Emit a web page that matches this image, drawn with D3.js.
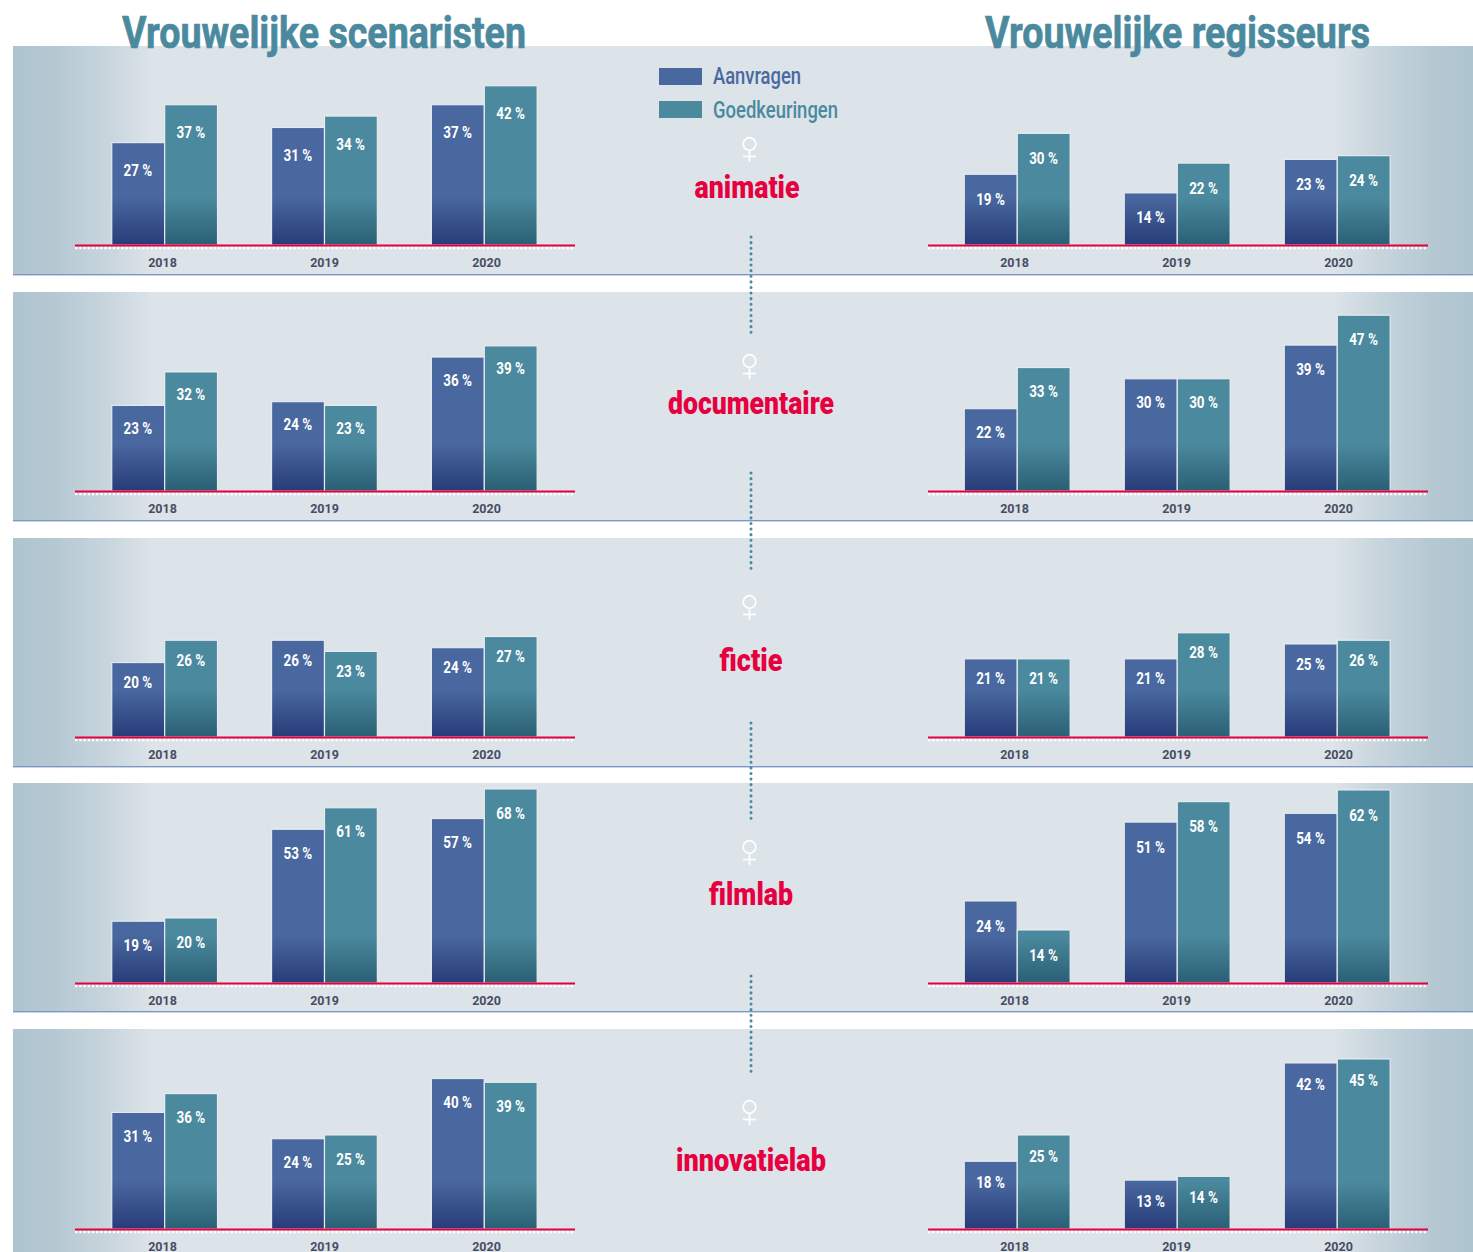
<!DOCTYPE html>
<html><head><meta charset="utf-8">
<script src="https://cdn.jsdelivr.net/npm/d3@7/dist/d3.min.js"></script>
<style>html,body{margin:0;padding:0;background:#fff;overflow:hidden}svg{display:block}</style>
</head><body><div id="c"></div>
<script>
const years = ["2018","2019","2020"];
const seriesNames = ["Aanvragen","Goedkeuringen"];
const categories = ["animatie","documentaire","fictie","filmlab","innovatielab"];
const columnTitles = ["Vrouwelijke scenaristen","Vrouwelijke regisseurs"];

// rows = categories, columns = years
const scenaristenAanvragen    = [[27,31,37],[23,24,36],[20,26,24],[19,53,57],[31,24,40]];
const scenaristenGoedkeuringen= [[37,34,42],[32,23,39],[26,23,27],[20,61,68],[36,25,39]];
const regisseursAanvragen     = [[19,14,23],[22,30,39],[21,21,25],[24,51,54],[18,13,42]];
const regisseursGoedkeuringen = [[30,22,24],[33,30,47],[21,28,26],[14,58,62],[25,14,45]];

// layout
const W=1473,H=1252;
const panelTops=[46,292,538,783,1029], panelH=229;
const baselines=[245,491,737,983,1229];
const pxPerPct=[[3.79,3.72],[3.72,3.74],[3.72,3.72],[3.75,3.75],[3.76,3.76]];
// the reference's value axes are not strictly linear in some panels
const scaleKnots={
  "3-0":[[0,20,68],[0,65,194]],
  "3-1":[[0,14,24,62],[0,53,82,193]],
  "4-1":[[0,25,40,42,45],[0,94,150,166,170]]
};
const labelDy=[[28,25],[23,24],[20,20],[24,25],[24,21]];
const colGeom=[
 {bars:[111.5,537],ticks:[162,486],axis:[75,575]},
 {bars:[964,1390],ticks:[1014,1338],axis:[928,1428]}
];
const headerGeom=[{x:122,w:404},{x:985,w:385}];
const catLayout=[{x:747,y:187,w:105,sy:148},{x:751,y:403,w:166,sy:365},{x:751,y:660,w:63,sy:606},{x:751,y:894,w:84,sy:851},{x:751,y:1160,w:150,sy:1111}];
const dotted=[[237,333],[473,569],[723,820],[976,1073]];
const cond='"Roboto","Liberation Sans",sans-serif';
const COL={blue:"#4a68a0",blueD:"#263c78",teal:"#4b8a9e",tealD:"#2a5f75",title:"#4b8a9e",red:"#e6003f",year:"#474d63"};

const svg=d3.select("#c").append("svg").attr("width",W).attr("height",H).attr("viewBox",`0 0 ${W} ${H}`);
const defs=svg.append("defs");
const bg=defs.append("linearGradient").attr("id","bg").attr("gradientUnits","userSpaceOnUse").attr("x1",13).attr("x2",1473).attr("y1",0).attr("y2",0);
[[0,"#aec4cf"],[0.03,"#b6c9d3"],[0.065,"#c8d5dd"],[0.095,"#dce3e9"],[0.905,"#dce3e9"],[0.935,"#c8d5dd"],[0.97,"#b6c9d3"],[1,"#aec4cf"]]
 .forEach(([o,c])=>bg.append("stop").attr("offset",o).attr("stop-color",c));
function barGrad(id,top,bot){
  const g=defs.append("linearGradient").attr("id",id).attr("gradientUnits","userSpaceOnUse").attr("x1",0).attr("x2",0).attr("y1",-48).attr("y2",0);
  g.append("stop").attr("offset",0).attr("stop-color",top);
  g.append("stop").attr("offset",1).attr("stop-color",bot);
}
barGrad("gBlue",COL.blue,COL.blueD);
barGrad("gTeal",COL.teal,COL.tealD);

// panels
svg.selectAll("rect.panel").data(panelTops).join("rect").attr("class","panel")
  .attr("x",13).attr("y",d=>d).attr("width",W-13).attr("height",panelH).attr("fill","url(#bg)");
svg.selectAll("rect.pline").data(panelTops).join("rect").attr("class","pline")
  .attr("x",13).attr("y",d=>d+panelH-1).attr("width",W-13).attr("height",1.4).attr("fill","#7d97c4");

// headers
svg.selectAll("text.head").data(columnTitles).join("text").attr("class","head")
  .attr("x",(d,i)=>headerGeom[i].x).attr("y",48).attr("textLength",(d,i)=>headerGeom[i].w).attr("lengthAdjust","spacingAndGlyphs")
  .attr("font-family",cond).attr("font-weight",700).attr("font-size",45).attr("fill",COL.title)
  .attr("stroke",COL.title).attr("stroke-width",.7).text(d=>d);

// charts
const seriesByCol=[[scenaristenAanvragen,scenaristenGoedkeuringen],[regisseursAanvragen,regisseursGoedkeuringen]];
categories.forEach((cat,p)=>{
  colGeom.forEach((geo,c)=>{
    const g=svg.append("g").attr("transform",`translate(0,${baselines[p]})`);
    const x0=d3.scaleBand().domain(years).range(geo.bars).paddingInner(0.3375).paddingOuter(0);
    const x1=d3.scaleBand().domain(seriesNames).range([0,x0.bandwidth()]);
    const k=scaleKnots[p+"-"+c];
    const y=d3.scaleLinear().domain(k?k[0]:[0,100]).range(k?k[1].map(v=>-v):[0,-100*pxPerPct[p][c]]);
    const rows=years.flatMap((yr,i)=>seriesNames.map((s,si)=>({yr,s,si,v:seriesByCol[c][si][p][i]})));
    g.selectAll("rect.bar").data(rows).join("rect").attr("class","bar")
      .attr("x",d=>x0(d.yr)+x1(d.s)+.3).attr("y",d=>y(d.v))
      .attr("width",x1.bandwidth()-.2).attr("height",d=>-y(d.v))
      .attr("fill",d=>d.si?"url(#gTeal)":"url(#gBlue)")
      .attr("stroke","#eef2f6").attr("stroke-width",1.1).attr("stroke-opacity",.9);
    g.selectAll("text.val").data(rows).join("text").attr("class","val")
      .attr("x",d=>x0(d.yr)+x1(d.s)+x1.bandwidth()/2).attr("y",d=>y(d.v)+labelDy[p][c]+5.5)
      .attr("text-anchor","middle").attr("font-family",cond).attr("font-weight",700).attr("font-size",16)
      .attr("fill","#fff").attr("transform",d=>{const cx=x0(d.yr)+x1(d.s)+x1.bandwidth()/2;return `translate(${cx*0.16},0) scale(0.84,1)`;})
      .text(d=>d.v+" %");
    // baseline
    g.append("line").attr("x1",geo.axis[0]).attr("x2",geo.axis[1]).attr("y1",3).attr("y2",3)
      .attr("stroke","#fff").attr("stroke-width",2.5).attr("stroke-dasharray","2.4 1.8");
    g.append("line").attr("x1",geo.axis[0]).attr("x2",geo.axis[1]).attr("y1",.5).attr("y2",.5)
      .attr("stroke",COL.red).attr("stroke-width",2);
    // year axis
    const xt=d3.scalePoint().domain(years).range(geo.ticks);
    const ax=g.append("g").attr("transform","translate(0,10)").call(d3.axisBottom(xt).tickSize(0).tickPadding(3));
    ax.select(".domain").remove();
    ax.selectAll("text").attr("font-family",cond).attr("font-weight",700).attr("font-size",12.5).attr("fill",COL.year);
  });
  const L=catLayout[p];
  svg.append("text").attr("x",L.x).attr("y",L.y+11).attr("text-anchor","middle")
    .attr("textLength",L.w).attr("lengthAdjust","spacingAndGlyphs")
    .attr("font-family",cond).attr("font-weight",900).attr("font-size",31).attr("fill",COL.red).text(cat);
  // female symbol icon
  const s=svg.append("g").attr("transform",`translate(749.5,${L.sy-4})`).attr("fill","none").attr("stroke","#fff").attr("stroke-width",1.7);
  s.append("circle").attr("r",6.3);
  s.append("line").attr("y1",6.3).attr("y2",18);
  s.append("line").attr("x1",-6.5).attr("x2",6.5).attr("y1",12.5).attr("y2",12.5);
});

// connectors
svg.selectAll("line.dots").data(dotted).join("line").attr("class","dots")
  .attr("x1",751).attr("x2",751).attr("y1",d=>d[0]).attr("y2",d=>d[1])
  .attr("stroke","#4b8a9e").attr("stroke-width",3).attr("stroke-linecap","round").attr("stroke-dasharray","0.1 5.5");

// legend
const lg=svg.selectAll("g.lg").data(seriesNames).join("g").attr("class","lg").attr("transform",(d,i)=>`translate(659,${68+i*33})`);
lg.append("rect").attr("width",43).attr("height",17).attr("fill",(d,i)=>i?COL.teal:COL.blue);
lg.append("text").attr("x",54).attr("y",(d,i)=>16+i).attr("textLength",(d,i)=>i?125:88).attr("lengthAdjust","spacingAndGlyphs")
  .attr("font-family",cond).attr("font-weight",500).attr("font-size",24).attr("fill",(d,i)=>i?COL.teal:COL.blue).text(d=>d);
</script></body></html>
